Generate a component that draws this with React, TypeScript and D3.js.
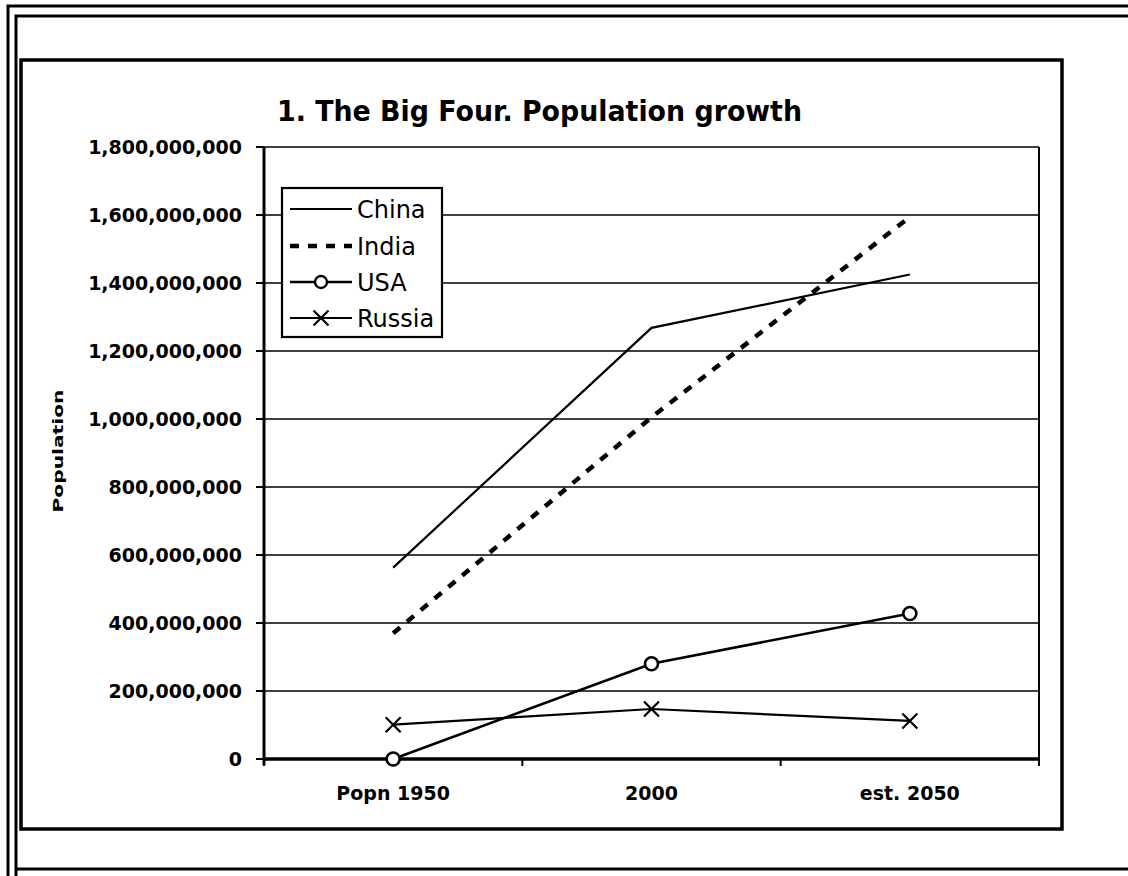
import React from 'react';
import * as d3 from 'd3';

const categories = ['Popn 1950', '2000', 'est. 2050'];
const china = [563e6, 1268e6, 1425e6];
const india = [370e6, 1005e6, 1594e6];
const usa = [0, 280e6, 428e6];
const russia = [101e6, 147e6, 112e6];
const yTicks = [0, 200e6, 400e6, 600e6, 800e6, 1000e6, 1200e6, 1400e6, 1600e6, 1800e6];

const W = 1128;
const H = 876;

const plot = { left: 264, right: 1039, top: 147, bottom: 759 };

export default function App() {
  const x = d3.scaleBand<string>().domain(categories).range([plot.left, plot.right]).padding(0);
  const y = d3.scaleLinear().domain([0, 1800e6]).range([plot.bottom, plot.top]);
  const cx = (c: string) => (x(c) ?? 0) + x.bandwidth() / 2;
  const fmt = d3.format(',');

  const line = d3.line<number>()
    .x((_, i) => cx(categories[i]))
    .y(d => y(d));

  const boundaries = [...categories.map(c => x(c) ?? 0), plot.right];

  const cross = (px: number, py: number, s: number, key: string) => (
    <path key={key} d={`M${px - s},${py - s}L${px + s},${py + s}M${px - s},${py + s}L${px + s},${py - s}`}
      stroke="#000" strokeWidth={2.2} fill="none" />
  );

  // legend layout
  const legend = { x: 282, y: 188, w: 160, h: 149 };
  const rows = [209, 246, 282, 318];
  const sx0 = 290, sx1 = 352, smid = (sx0 + sx1) / 2;

  return (
    <svg width={W} height={H} style={{ position: 'absolute', left: 0, top: 0, background: '#fff' }}
      fontFamily="'DejaVu Sans', Verdana, sans-serif">
      <rect x={0} y={0} width={W} height={H} fill="#fff" />

      {/* outer double frame */}
      <path d={`M8,${H}V6H${W}`} stroke="#000" strokeWidth={3} fill="none" />
      <path d={`M16,${H}V16H${W}`} stroke="#000" strokeWidth={3} fill="none" />
      <line x1={16} x2={W} y1={869} y2={869} stroke="#000" strokeWidth={3} />

      {/* chart area */}
      <rect x={21} y={60} width={1041} height={769} fill="#fff" stroke="#000" strokeWidth={3.5} />

      {/* title */}
      <text x={277} y={121} fontSize={29} fontWeight="bold" textLength={525} lengthAdjust="spacingAndGlyphs">
        1. The Big Four. Population growth
      </text>

      {/* gridlines */}
      {yTicks.map(t => (
        <line key={`g${t}`} x1={plot.left} x2={plot.right} y1={y(t)} y2={y(t)} stroke="#000" strokeWidth={1.7} />
      ))}
      <line x1={plot.right} x2={plot.right} y1={plot.top} y2={plot.bottom} stroke="#000" strokeWidth={2} />

      {/* y axis */}
      <line x1={plot.left} x2={plot.left} y1={plot.top} y2={plot.bottom + 6} stroke="#000" strokeWidth={3} />
      {yTicks.map(t => (
        <g key={`yt${t}`}>
          <line x1={plot.left - 8} x2={plot.left} y1={y(t)} y2={y(t)} stroke="#000" strokeWidth={2} />
          <text x={242} y={y(t)} dy="0.36em" textAnchor="end" fontSize={19} fontWeight="bold">{fmt(t)}</text>
        </g>
      ))}
      <text transform={`translate(63,451) rotate(-90)`} textAnchor="middle" fontSize={14} fontWeight="bold"
        textLength={123} lengthAdjust="spacingAndGlyphs">Population</text>

      {/* x axis */}
      <line x1={plot.left} x2={plot.right} y1={plot.bottom} y2={plot.bottom} stroke="#000" strokeWidth={3.5} />
      {boundaries.map((b, i) => (
        <line key={`xt${i}`} x1={b} x2={b} y1={plot.bottom} y2={plot.bottom + 7} stroke="#000" strokeWidth={2} />
      ))}
      {categories.map(c => (
        <text key={`xl${c}`} x={cx(c)} y={800} textAnchor="middle" fontSize={19} fontWeight="bold">{c}</text>
      ))}

      {/* series */}
      <path d={line(china) ?? ''} stroke="#000" strokeWidth={2.2} fill="none" />
      <path d={line(india) ?? ''} stroke="#000" strokeWidth={4.5} strokeDasharray="9,9" fill="none" />
      <path d={line(usa) ?? ''} stroke="#000" strokeWidth={2.6} fill="none" />
      <path d={line(russia) ?? ''} stroke="#000" strokeWidth={2.2} fill="none" />
      {usa.map((v, i) => (
        <circle key={`u${i}`} cx={cx(categories[i])} cy={y(v)} r={6.5} fill="#fff" stroke="#000" strokeWidth={2.6} />
      ))}
      {russia.map((v, i) => cross(cx(categories[i]), y(v), 7.5, `r${i}`))}

      {/* legend */}
      <rect x={legend.x} y={legend.y} width={legend.w} height={legend.h} fill="#fff" stroke="#000" strokeWidth={2.2} />
      <line x1={sx0} x2={sx1} y1={rows[0]} y2={rows[0]} stroke="#000" strokeWidth={2} />
      <line x1={sx0} x2={sx1} y1={rows[1]} y2={rows[1]} stroke="#000" strokeWidth={4.5} strokeDasharray="9,9" />
      <line x1={sx0} x2={sx1} y1={rows[2]} y2={rows[2]} stroke="#000" strokeWidth={2.4} />
      <circle cx={smid} cy={rows[2]} r={6} fill="#fff" stroke="#000" strokeWidth={2.4} />
      <line x1={sx0} x2={sx1} y1={rows[3]} y2={rows[3]} stroke="#000" strokeWidth={2} />
      {cross(smid, rows[3], 7.5, 'lr')}
      {['China', 'India', 'USA', 'Russia'].map((n, i) => (
        <text key={n} x={357} y={rows[i]} dy="0.36em" fontSize={24}>{n}</text>
      ))}
    </svg>
  );
}
